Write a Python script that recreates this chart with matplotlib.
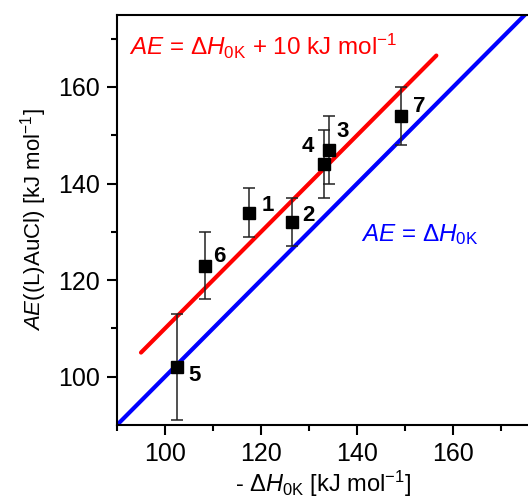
import matplotlib.pyplot as plt
import numpy as np

# data
dH = [117.5, 126.5, 134.2, 133.1, 102.5, 108.3, 149.2]
AE = [134, 132, 147, 144, 102, 123, 154]
err = [5, 5, 7, 7, 11, 7, 6]
labels = ['1', '2', '3', '4', '5', '6', '7']
label_dx = [2.6, 2.0, 1.4, -2.0, 2.4, 1.8, 2.4]
label_dy = [1.4, 1.4, 3.7, 3.7, -1.7, 1.8, 2.0]
label_ha = ['left', 'left', 'left', 'right', 'left', 'left', 'left']

red_x = [95, 156.5]
blue_x = [90, 176]


def main():
    plt.rcParams['font.family'] = ['Liberation Sans', 'DejaVu Sans']
    plt.rcParams['mathtext.fontset'] = 'custom'
    plt.rcParams['mathtext.rm'] = 'Liberation Sans'
    plt.rcParams['mathtext.it'] = 'Liberation Sans:italic'
    plt.rcParams['mathtext.bf'] = 'Liberation Sans:bold'

    fig = plt.figure(figsize=(5.28, 4.99), dpi=100)
    ax = fig.add_axes([117 / 528, 74 / 499, 413 / 528, 410.5 / 499])

    rx = np.array(red_x)
    bx = np.array(blue_x)
    ax.plot(rx, rx + 10, color='#ff0000', lw=3, solid_capstyle='round', zorder=2)
    ax.plot(bx, bx, color='#0000ff', lw=3, zorder=2)

    ax.errorbar(dH, AE, yerr=err, fmt='s', color='black', ms=8.5,
                ecolor='#222222', elinewidth=1.1, capsize=4, capthick=1.1, zorder=3)

    for x, y, t, dx, dy, ha in zip(dH, AE, labels, label_dx, label_dy, label_ha):
        ax.text(x + dx, y + dy, t, fontsize=16, fontweight='bold', ha=ha, va='center')

    ax.text(92.5, 168.3, r'$\it{AE}$ = Δ$\it{H}_{\rm 0K}$ + 10 kJ mol$^{-1}$',
            color='#ff0000', fontsize=17.5, ha='left', va='center')
    ax.text(140.8, 129.5, r'$\it{AE}$ = Δ$\it{H}_{\rm 0K}$',
            color='#0000ff', fontsize=17.5, ha='left', va='center')

    ax.set_xlim(90, 176)
    ax.set_ylim(90, 175)
    ax.set_xticks([100, 120, 140, 160])
    ax.set_xticks([90, 110, 130, 150, 170], minor=True)
    ax.set_yticks([100, 120, 140, 160])
    ax.set_yticks([110, 130, 150, 170], minor=True)
    ax.tick_params(which='major', direction='out', length=7.5, width=1.5,
                   labelsize=18, pad=5)
    ax.tick_params(which='minor', direction='out', length=4.5, width=1.5)
    for s in ax.spines.values():
        s.set_linewidth(1.5)

    ax.set_xlabel(r'- Δ$\it{H}_{\rm 0K}$ [kJ mol$^{-1}$]', fontsize=17, labelpad=2)
    ax.set_ylabel(r'$\it{AE}$((L)AuCl) [kJ mol$^{-1}$]', fontsize=16, labelpad=6)

    fig.savefig('out.png', dpi=100)


if __name__ == '__main__':
    main()
